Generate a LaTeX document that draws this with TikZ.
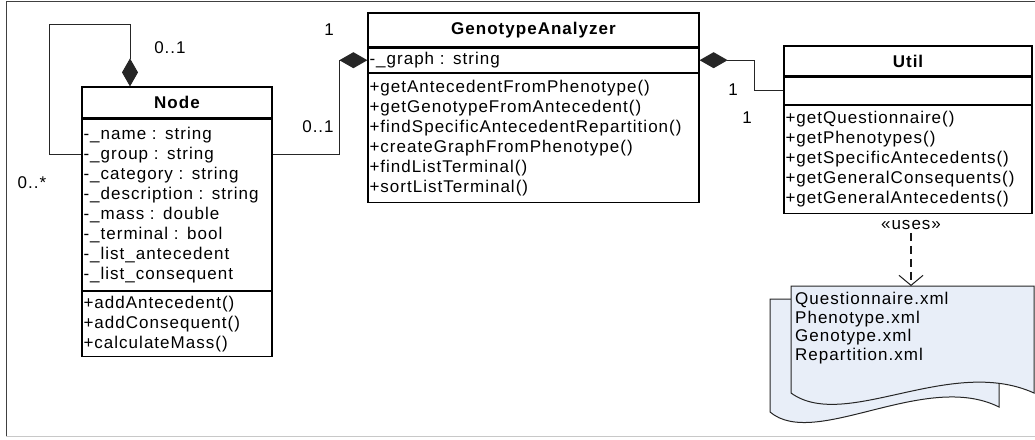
\documentclass[tikz,border=0pt]{standalone}
\usepackage{fontspec}
\usepackage{tikz}
\usetikzlibrary{arrows.meta,positioning}
\newfontfamily\umlfont[LetterSpace=6]{Liberation Sans}
\definecolor{docfill}{HTML}{E8EEF8}
\definecolor{framedark}{HTML}{404040}
\definecolor{framelight}{HTML}{C8C8C8}

\begin{document}
\begin{tikzpicture}[x=1pt,y=-1pt,
  every node/.style={font=\umlfont\fontsize{17}{20}\selectfont},
  head/.style={draw,line width=1.2pt,inner sep=0pt,
    font=\umlfont\bfseries\fontsize{17}{20}\selectfont},
  sect/.style={draw,line width=1.2pt,align=left,inner xsep=1.5pt,inner ysep=0pt,anchor=north},
  compo/.style={draw=black!85,line width=0.9pt,-{Diamond[length=28pt,width=16pt]}},
  dep/.style={draw=black!90,line width=1.4pt,dash pattern=on 8pt off 5pt,
    -{Straight Barb[length=10pt,width=24pt,line width=1pt]}},
  docshape/.style={draw=black!85,line width=1pt,fill=docfill}]
\useasboundingbox (0,0) rectangle (1035,439);
%Rahmen
\draw[framedark,line width=1pt] (6,436) -- (6,1) -- (1035,1);
\draw[framelight,line width=1pt] (6,436) -- (1035,436);
%Node
\node[head,minimum width=190pt,minimum height=31pt] (node) at (177,102.5) {Node};
\node[sect,text width=187pt,minimum height=171pt,below=0pt of node] (nodeattr)
  {-\_name : string\\-\_group : string\\-\_category : string\\-\_description : string\\
   -\_mass : double\\-\_terminal : bool\\-\_list\_antecedent\\-\_list\_consequent};
\node[sect,text width=187pt,minimum height=65pt,below=0pt of nodeattr] (nodemeth)
  {+addAntecedent()\\+addConsequent()\\+calculateMass()};
%GenotypeAnalyzer
\node[head,minimum width=331pt,minimum height=34pt] (ga) at (533.5,30) {GenotypeAnalyzer};
\node[sect,text width=328pt,minimum height=24pt,below=0pt of ga] (gaattr) {-\_graph : string};
\node[sect,text width=328pt,minimum height=129pt,below=0pt of gaattr] (gameth)
  {+getAntecedentFromPhenotype()\\+getGenotypeFromAntecedent()\\
   +findSpecificAntecedentRepartition()\\+createGraphFromPhenotype()\\
   +findListTerminal()\\+sortListTerminal()};
%Util
\node[head,minimum width=248pt,minimum height=30pt] (util) at (908,61) {Util};
\node[sect,text width=245pt,minimum height=27pt,below=0pt of util] (utilattr) {};
\node[sect,text width=245pt,minimum height=108pt,below=0pt of utilattr] (utilmeth)
  {+getQuestionnaire()\\+getPhenotypes()\\+getSpecificAntecedents()\\
   +getGeneralConsequents()\\+getGeneralAntecedents()};
%Dateien
\filldraw[docshape] (770,299) -- (999,299) -- (999,407)
  .. controls (925,370) and (815,450) .. (770,412) -- cycle;
\filldraw[docshape] (791,286) -- (1034,286) -- (1034,393)
  .. controls (950,355) and (845,432) .. (791,393) -- cycle;
\node[anchor=north west,text width=235pt,align=left,inner xsep=4pt,inner ysep=6pt,
  font=\umlfont\fontsize{17}{18.5}\selectfont] (docs) at (791,286)
  {Questionnaire.xml\\Phenotype.xml\\Genotype.xml\\Repartition.xml};
\node[inner sep=1pt] (uses) at (911,225) {«uses»};
%Verbindungen
\draw[compo] ([yshift=-36pt]nodeattr.north west) -| (49,24) -| ([xshift=-47pt]node.north);
\draw[compo] ([yshift=-36pt]nodeattr.north east) -- ++(67,0) |- (gaattr.west);
\draw[compo,{Diamond[length=28pt,width=16pt]}-] (gaattr.east) -- ++(55,0) |- (utilattr.west);
\draw[dep] ([yshift=-2pt]uses.south) -- (uses |- docs.north);
%Multiplizitaeten
\node (mloopa) at (170,48) {0..1};
\node (mloopb) at (32,183) {0..*};
\node (mgaa) at (329,30) {1};
\node (mgab) at (318,127) {0..1};
\node (mutila) at (733,90) {1};
\node (mutilb) at (747,118) {1};
\end{tikzpicture}
\end{document}
